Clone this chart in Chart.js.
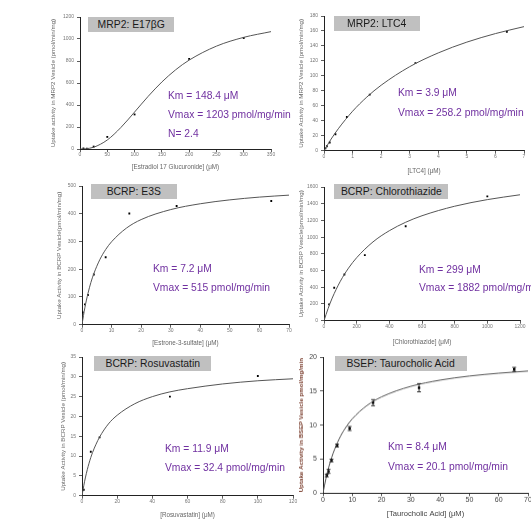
<!DOCTYPE html>
<html>
<head>
<meta charset="utf-8">
<script src="https://cdn.jsdelivr.net/npm/chart.js@4.4.1/dist/chart.umd.min.js"></script>
<style>
  html, body { margin: 0; padding: 0; background: #fff; }
  body { width: 531px; height: 519px; position: relative; overflow: hidden; font-family: "Liberation Sans", Arial, sans-serif; }
  canvas { position: absolute; }
  .tag { position: absolute; height: 15px; background: #c0c0c0; color: #1a1a1a; font-size: 11.8px; line-height: 15px; text-align: center; white-space: nowrap; z-index: 2; }
  .tag span { display: inline-block; transform: scaleX(0.88); }
  .note { position: absolute; color: #7030a0; font-size: 10.3px; line-height: 12px; white-space: nowrap; z-index: 2; }
</style>
</head>
<body>

<div class="tag" style="left:88px;top:17px;width:86px;"><span>MRP2: E17βG</span></div>
<div class="tag" style="left:334px;top:16px;width:86px;"><span>MRP2: LTC4</span></div>
<div class="tag" style="left:91px;top:184px;width:86px;"><span>BCRP: E3S</span></div>
<div class="tag" style="left:334px;top:184px;width:114px;"><span>BCRP: Chlorothiazide</span></div>
<div class="tag" style="left:94px;top:356px;width:117px;"><span>BCRP: Rosuvastatin</span></div>
<div class="tag" style="left:335px;top:356px;width:132px;"><span>BSEP: Taurocholic Acid</span></div>

<div class="note" style="left:168px;top:90px;">Km = 148.4 μM</div>
<div class="note" style="left:168px;top:109px;">Vmax = 1203 pmol/mg/min</div>
<div class="note" style="left:168px;top:128px;">N= 2.4</div>
<div class="note" style="left:398px;top:87px;">Km = 3.9 μM</div>
<div class="note" style="left:398px;top:107px;">Vmax = 258.2 pmol/mg/min</div>
<div class="note" style="left:153px;top:263px;">Km = 7.2 μM</div>
<div class="note" style="left:153px;top:282px;">Vmax = 515 pmol/mg/min</div>
<div class="note" style="left:419px;top:264px;">Km = 299 μM</div>
<div class="note" style="left:419px;top:282px;">Vmax = 1882 pmol/mg/min</div>
<div class="note" style="left:165px;top:443px;">Km = 11.9 μM</div>
<div class="note" style="left:165px;top:462px;">Vmax = 32.4 pmol/mg/min</div>
<div class="note" style="left:388px;top:441px;">Km = 8.4 μM</div>
<div class="note" style="left:388px;top:461px;">Vmax = 20.1 pmol/mg/min</div>

<canvas id="p1"></canvas>
<canvas id="p2"></canvas>
<canvas id="p3"></canvas>
<canvas id="p4"></canvas>
<canvas id="p5"></canvas>
<canvas id="p6"></canvas>

<script>
// ---- data ----

// MRP2: E17bG
const e17PointX = [6.25, 12.5, 25, 50, 100, 200, 300];
const e17PointY = [5, 3, 22, 110, 314, 819, 1009];
const e17CurveX = [0, 10, 25, 50, 75, 100, 125, 150, 175, 200, 250, 300, 350];
const e17CurveY = [0, 2, 16, 82, 196, 336, 479, 609, 719, 808, 935, 1015, 1067];
const e17XRange = [0, 350, 50];
const e17YRange = [0, 1200, 200];

// MRP2: LTC4
const ltcPointX = [0.05, 0.1, 0.2, 0.4, 0.8, 1.6, 3.2, 6.4];
const ltcPointY = [3, 6, 11, 22, 45, 75, 117, 159];
const ltcCurveX = [0, 0.1, 0.25, 0.5, 1, 1.5, 2, 3, 4, 5, 6, 7];
const ltcCurveY = [0, 6.3, 15.6, 29.3, 52.7, 71.7, 87.5, 112.3, 130.7, 145.1, 156.5, 165.8];
const ltcXRange = [0, 7, 1];
const ltcYRange = [0, 180, 20];

// BCRP: E3S
const e3sPointX = [0.25, 1, 2, 4, 8, 16, 32, 64];
const e3sPointY = [44, 73, 107, 181, 243, 401, 428, 446];
const e3sCurveX = [0, 0.5, 1, 2, 3, 4, 6, 8, 10, 15, 20, 30, 40, 50, 60, 70];
const e3sCurveY = [0, 33, 63, 112, 152, 184, 234, 271, 299, 348, 379, 415, 436, 450, 460, 467];
const e3sXRange = [0, 70, 10];
const e3sYRange = [0, 500, 100];

// BCRP: Chlorothiazide
const chlPointX = [31.25, 62.5, 125, 250, 500, 1000];
const chlPointY = [195, 394, 553, 784, 1130, 1488];
const chlCurveX = [0, 25, 50, 100, 150, 200, 300, 400, 500, 600, 800, 1000, 1200];
const chlCurveY = [0, 145, 270, 472, 629, 754, 943, 1077, 1178, 1256, 1370, 1449, 1507];
const chlXRange = [0, 1200, 200];
const chlYRange = [0, 1600, 200];

// BCRP: Rosuvastatin
const rosPointX = [1, 5, 10, 50, 100];
const rosPointY = [1.5, 11.1, 14.7, 25, 30.2];
const rosCurveX = [0, 1, 2, 4, 6, 8, 10, 15, 20, 30, 40, 50, 60, 80, 100, 120];
const rosCurveY = [0, 2.5, 4.7, 8.2, 10.9, 13.0, 14.8, 18.1, 20.3, 23.2, 25.0, 26.2, 27.0, 28.2, 29.0, 29.5];
const rosXRange = [0, 120, 20];
const rosYRange = [0, 35, 5];

// BSEP: Taurocholic Acid
const tcaPointX = [1.3, 1.9, 2.9, 4.8, 9.1, 17.1, 32.8, 65.3];
const tcaPointY = [2.6, 3.2, 4.8, 7.0, 9.5, 13.3, 15.5, 18.2];
const tcaPointErr = [0.2, 0.3, 0.2, 0.2, 0.3, 0.45, 0.6, 0.3];
const tcaCurveX = [0, 1, 2, 3, 4, 6, 8, 10, 15, 20, 30, 40, 50, 60, 70];
const tcaCurveY = [0, 2.14, 3.87, 5.29, 6.48, 8.38, 9.80, 10.92, 12.88, 14.15, 15.70, 16.61, 17.21, 17.63, 17.95];
const tcaXRange = [0, 70, 10];
const tcaYRange = [0, 20, 5];

// ---- helpers ----
const zip = (xs, ys) => xs.map((x, i) => ({ x: x, y: ys[i] }));

// vertical error bars drawn through the chart's own scales
const errorBars = {
    id: 'errorBars',
    afterDatasetsDraw(chart, args, opts) {
        if (!opts.err) return;
        const { ctx, scales: { x, y } } = chart;
        const pts = chart.data.datasets[1].data;
        ctx.save();
        ctx.strokeStyle = '#111';
        ctx.lineWidth = 0.8;
        pts.forEach((p, i) => {
            const px = x.getPixelForValue(p.x);
            const top = y.getPixelForValue(p.y + opts.err[i]);
            const bot = y.getPixelForValue(p.y - opts.err[i]);
            ctx.beginPath();
            ctx.moveTo(px, top); ctx.lineTo(px, bot);
            ctx.moveTo(px - 2, top); ctx.lineTo(px + 2, top);
            ctx.moveTo(px - 2, bot); ctx.lineTo(px + 2, bot);
            ctx.stroke();
        });
        ctx.restore();
    }
};

function makePanel(p) {
    const W = 44, padTop = 8, padRight = 10;
    const H = p.xTitleY - p.yb + 6;
    const left = Math.round(p.x0) - W;
    const top = Math.round(p.yt) - padTop;
    const width = W + Math.round(p.x1 - p.x0) + padRight;
    const height = padTop + Math.round(p.yb - p.yt) + H;
    const cv = document.getElementById(p.id);
    cv.width = width; cv.height = height;
    cv.style.left = left + 'px'; cv.style.top = top + 'px';
    cv.style.width = width + 'px'; cv.style.height = height + 'px';

    const tickFont = { family: 'Liberation Sans', size: p.tickSize };
    const titleLh = p.titleSize * 1.2;
    const yts = p.yTitleSize || p.titleSize;
    const axisBase = {
        type: 'linear',
        grid: { display: true, drawOnChartArea: false, drawTicks: true, tickLength: 3, color: '#333', lineWidth: 0.8 },
        border: { display: true, color: '#222', width: 1 }
    };

    new Chart(cv, {
        type: 'line',
        data: {
            datasets: [
                {
                    data: zip(p.curveX, p.curveY),
                    borderColor: '#555',
                    borderWidth: 1,
                    pointRadius: 0,
                    cubicInterpolationMode: 'monotone',
                    fill: false
                },
                {
                    data: zip(p.pointX, p.pointY),
                    showLine: false,
                    pointStyle: 'rect',
                    pointRadius: p.markSize,
                    backgroundColor: '#000',
                    borderColor: '#000',
                    borderWidth: 0
                }
            ]
        },
        options: {
            responsive: false,
            animation: false,
            layout: { padding: { top: padTop, right: padRight, left: 0, bottom: 0 } },
            plugins: {
                legend: { display: false },
                tooltip: { enabled: false },
                errorBars: { err: p.err }
            },
            scales: {
                x: Object.assign({}, axisBase, {
                    min: p.xr[0], max: p.xr[1],
                    ticks: { stepSize: p.xr[2], font: tickFont, color: p.tickColor, padding: 0, maxRotation: 0, autoSkip: false,
                        callback: v => String(v) },
                    title: { display: true, text: p.xTitle, color: p.xTitleColor,
                        font: { family: 'Liberation Sans', size: p.titleSize },
                        padding: { top: 0, bottom: 6 - titleLh / 2 } },
                    afterFit(s) { s.height = H; }
                }),
                y: Object.assign({}, axisBase, {
                    min: p.yr[0], max: p.yr[1],
                    ticks: { stepSize: p.yr[2], font: tickFont, color: p.tickColor, padding: 3, autoSkip: false,
                        callback: v => String(v) },
                    title: { display: true, text: p.yTitle, color: p.yTitleColor,
                        font: { family: 'Liberation Sans', size: yts, weight: p.yTitleWeight || 'normal' },
                        padding: { top: p.yTitleX - left - yts * 0.6, bottom: 0 } },
                    afterFit(s) { s.width = W; }
                })
            }
        },
        plugins: [errorBars]
    });
}

const small = { tickSize: 5, tickColor: '#777', titleSize: 6.3, yTitleSize: 6.2, xTitleColor: '#666', yTitleColor: '#666', markSize: 1.3 };

makePanel(Object.assign({}, small, {
    id: 'p1', x0: 79.5, x1: 270, yt: 17, yb: 149, xTitleY: 167, yTitleX: 53,
    xr: e17XRange, yr: e17YRange, pointX: e17PointX, pointY: e17PointY, curveX: e17CurveX, curveY: e17CurveY,
    xTitle: '[Estradiol 17 Glucuronide] (μM)', yTitle: 'Uptake activity in MRP2 Vesicle (pmol/min/mg)'
}));
makePanel(Object.assign({}, small, {
    id: 'p2', x0: 323.5, x1: 523.5, yt: 15.7, yb: 150.7, xTitleY: 171, yTitleX: 301,
    xr: ltcXRange, yr: ltcYRange, pointX: ltcPointX, pointY: ltcPointY, curveX: ltcCurveX, curveY: ltcCurveY,
    xTitle: '[LTC4] (μM)', yTitle: 'Uptake Activity in MRP2 Vesicle (pmol/min/mg)'
}));
makePanel(Object.assign({}, small, {
    id: 'p3', x0: 82, x1: 289.3, yt: 186, yb: 324.7, xTitleY: 343, yTitleX: 59,
    xr: e3sXRange, yr: e3sYRange, pointX: e3sPointX, pointY: e3sPointY, curveX: e3sCurveX, curveY: e3sCurveY,
    xTitle: '[Estrone-3-sulfate] (μM)', yTitle: 'Uptake Activity in BCRP Vesicle(pmol/min/mg)'
}));
makePanel(Object.assign({}, small, {
    id: 'p4', x0: 324.3, x1: 520, yt: 186.7, yb: 320.7, xTitleY: 342, yTitleX: 301,
    xr: chlXRange, yr: chlYRange, pointX: chlPointX, pointY: chlPointY, curveX: chlCurveX, curveY: chlCurveY,
    xTitle: '[Chlorothiazide] (μM)', yTitle: 'Uptake Activity in BCRP Vesicle(pmol/min/mg)'
}));
makePanel(Object.assign({}, small, {
    id: 'p5', x0: 81.7, x1: 292.9, yt: 357.3, yb: 496.7, xTitleY: 516, yTitleX: 63,
    xr: rosXRange, yr: rosYRange, pointX: rosPointX, pointY: rosPointY, curveX: rosCurveX, curveY: rosCurveY,
    xTitle: '[Rosuvastatin] (μM)', yTitle: 'Uptake Activity in BCRP Vesicle (pmol/min/mg)'
}));
makePanel({
    id: 'p6', x0: 323.3, x1: 528.3, yt: 357.3, yb: 493.3, xTitleY: 514, yTitleX: 301,
    tickSize: 7, tickColor: '#444', titleSize: 7.6, yTitleSize: 6.2, yTitleWeight: 'bold', xTitleColor: '#444', yTitleColor: '#7b3f2f', markSize: 1.7,
    xr: tcaXRange, yr: tcaYRange, pointX: tcaPointX, pointY: tcaPointY, curveX: tcaCurveX, curveY: tcaCurveY,
    err: tcaPointErr,
    xTitle: '[Taurocholic Acid] (μM)', yTitle: 'Uptake Activity in BSEP Vesicle pmol/mg/min'
});
</script>
</body>
</html>
